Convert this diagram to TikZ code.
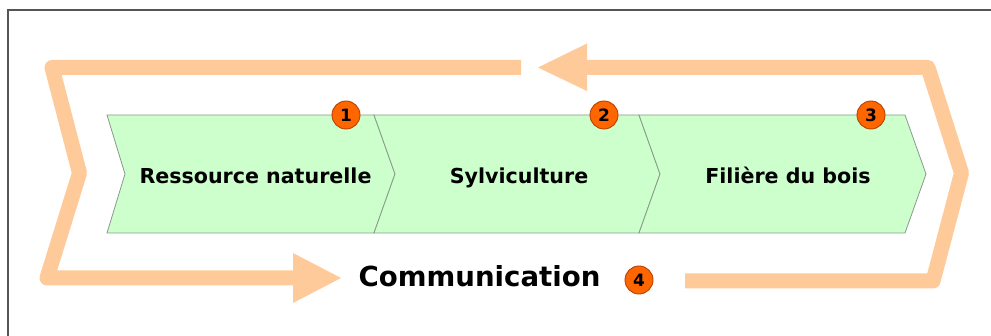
\documentclass[tikz,border=0pt]{standalone}
\usepackage{fontspec}
\setmainfont{DejaVu Sans}
\definecolor{bandc}{HTML}{FFCA99}
\definecolor{chevfill}{HTML}{CCFFCC}
\definecolor{chevline}{HTML}{8A9A8A}
\definecolor{badgec}{HTML}{FF6600}
\definecolor{badgeline}{HTML}{B84000}
\definecolor{framec}{HTML}{555555}
\begin{document}
\begin{tikzpicture}[x=1pt,y=-1pt,
  band/.style={draw=bandc, line width=15pt, line join=round},
  bandhead/.style={fill=bandc},
  chev/.style={fill=chevfill, draw=chevline, line width=0.8pt},
  lbl/.style={font=\bfseries\fontsize{20.6}{24}\selectfont, text=black, inner sep=0, anchor=base},
  biglbl/.style={font=\bfseries\fontsize{27.6}{32}\selectfont, text=black, inner sep=0, anchor=base},
  badge/.style={circle, fill=badgec, draw=badgeline, line width=0.9pt, minimum size=28pt, inner sep=0, font=\bfseries\fontsize{17}{20}\selectfont}]
\useasboundingbox (0,0) rectangle (991,336);
\fill[white] (0,0) rectangle (991,336);
% frame
\draw[framec, line width=1.2pt] (8,336) -- (8,10) -- (991,10);
% orange loop
\draw[band] (521,67.5) -- (52,67.5) -- (79.5,173) -- (47,278) -- (294,278);
\fill[bandhead] (293,253) -- (341,278) -- (293,303) -- cycle;
\draw[band] (586,67.5) -- (928,67.5) -- (961.5,173) -- (933,281) -- (685,281);
\fill[bandhead] (587,43.5) -- (538,67.5) -- (587,91) -- cycle;
% chevrons
\draw[chev] (107,115) -- (374,115) -- (395,174) -- (374,233) -- (107,233) -- (125,174) -- cycle;
\draw[chev] (374,115) -- (639,115) -- (660,174) -- (639,233) -- (374,233) -- (395,174) -- cycle;
\draw[chev] (639,115) -- (905,115) -- (926,174) -- (905,233) -- (639,233) -- (660,174) -- cycle;
% labels
\node[lbl] (ressource) at (255.5,183.5) {Ressource naturelle};
\node[lbl] (sylvi) at (519,183.5) {Sylviculture};
\node[lbl] (filiere) at (788,183.5) {Filière du bois};
\node[biglbl] (comm) at (479.5,287) {Communication};
% badges
\node[badge] (b1) at (346,115) {1};
\node[badge] (b2) at (604,115) {2};
\node[badge] (b3) at (871,115) {3};
\node[badge] (b4) at (639,280) {4};
\end{tikzpicture}
\end{document}
